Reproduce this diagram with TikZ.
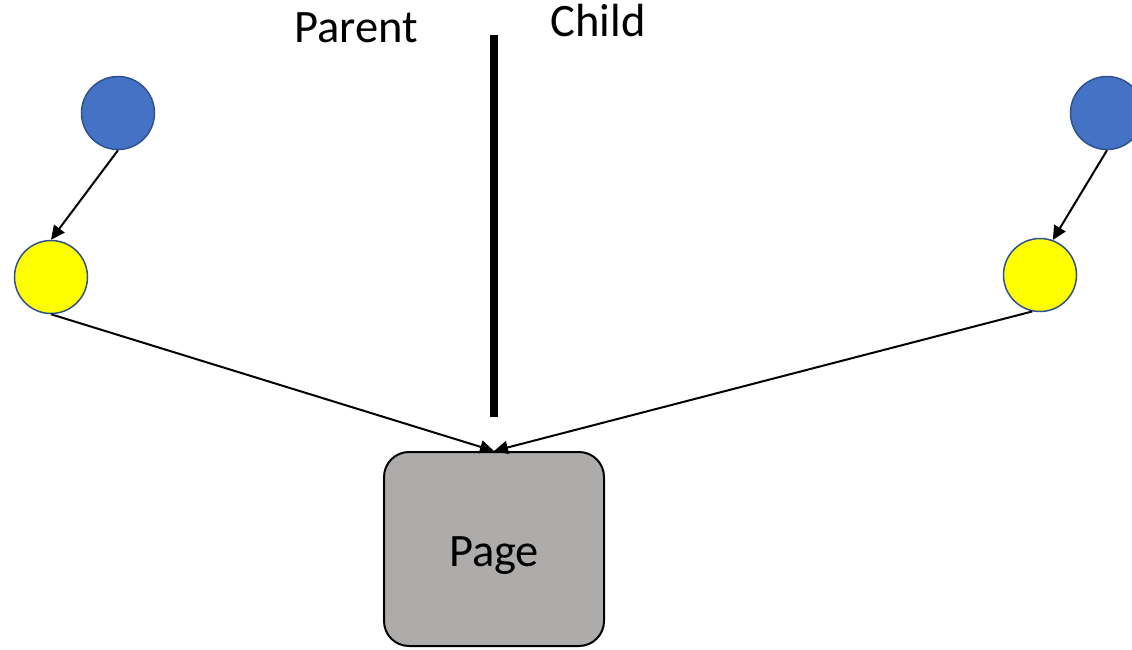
\documentclass[tikz,border=0pt]{standalone}
\usepackage{fontspec}
\setmainfont{Carlito}
\usetikzlibrary{arrows.meta}
\definecolor{nodeblue}{HTML}{4472C4}
\definecolor{ringblue}{HTML}{2F528F}
\definecolor{nodeyellow}{HTML}{FFFF00}
\definecolor{pagegray}{HTML}{AEABAB}

\begin{document}
\begin{tikzpicture}[x=1pt, y=-1pt,
  dot/.style={circle, draw=ringblue, line width=1.5pt, minimum size=73pt, inner sep=0pt},
  lbl/.style={font=\fontsize{46.5}{54}\selectfont, anchor=base, inner sep=0pt},
  arr/.style={-{Triangle[length=14pt, width=13pt]}, line width=2pt}]
\useasboundingbox (0,0) rectangle (1132,649);
% parent side
\node[dot, fill=nodeblue] (pb) at (118,113) {};
\node[dot, fill=nodeyellow] (py) at (51,277) {};
% child side
\node[dot, fill=nodeblue] (cb) at (1107,113) {};
\node[dot, fill=nodeyellow] (cy) at (1040,275) {};
\node[draw, line width=2pt, fill=pagegray, rounded corners=25pt, minimum width=220pt, minimum height=194pt,
  font=\fontsize{46.5}{54}\selectfont, text height=34pt, text depth=0pt] (page) at (494,549) {Page};
\node[lbl] (par) at (356,42) {Parent};
\node[lbl] (chi) at (598,36) {Child};
% divider
\coordinate (dtop) at (494,35);
\coordinate (dbot) at (494,417);
\draw[line width=8pt] (dtop) -- (dbot);
\draw[arr] (pb.south) -- (py.north); \draw[arr] (cb.south) -- (cy.70);
\draw[arr] (py.south) -- (page.north); \draw[arr] (cy.258) -- (page.north);
\end{tikzpicture}
\end{document}
